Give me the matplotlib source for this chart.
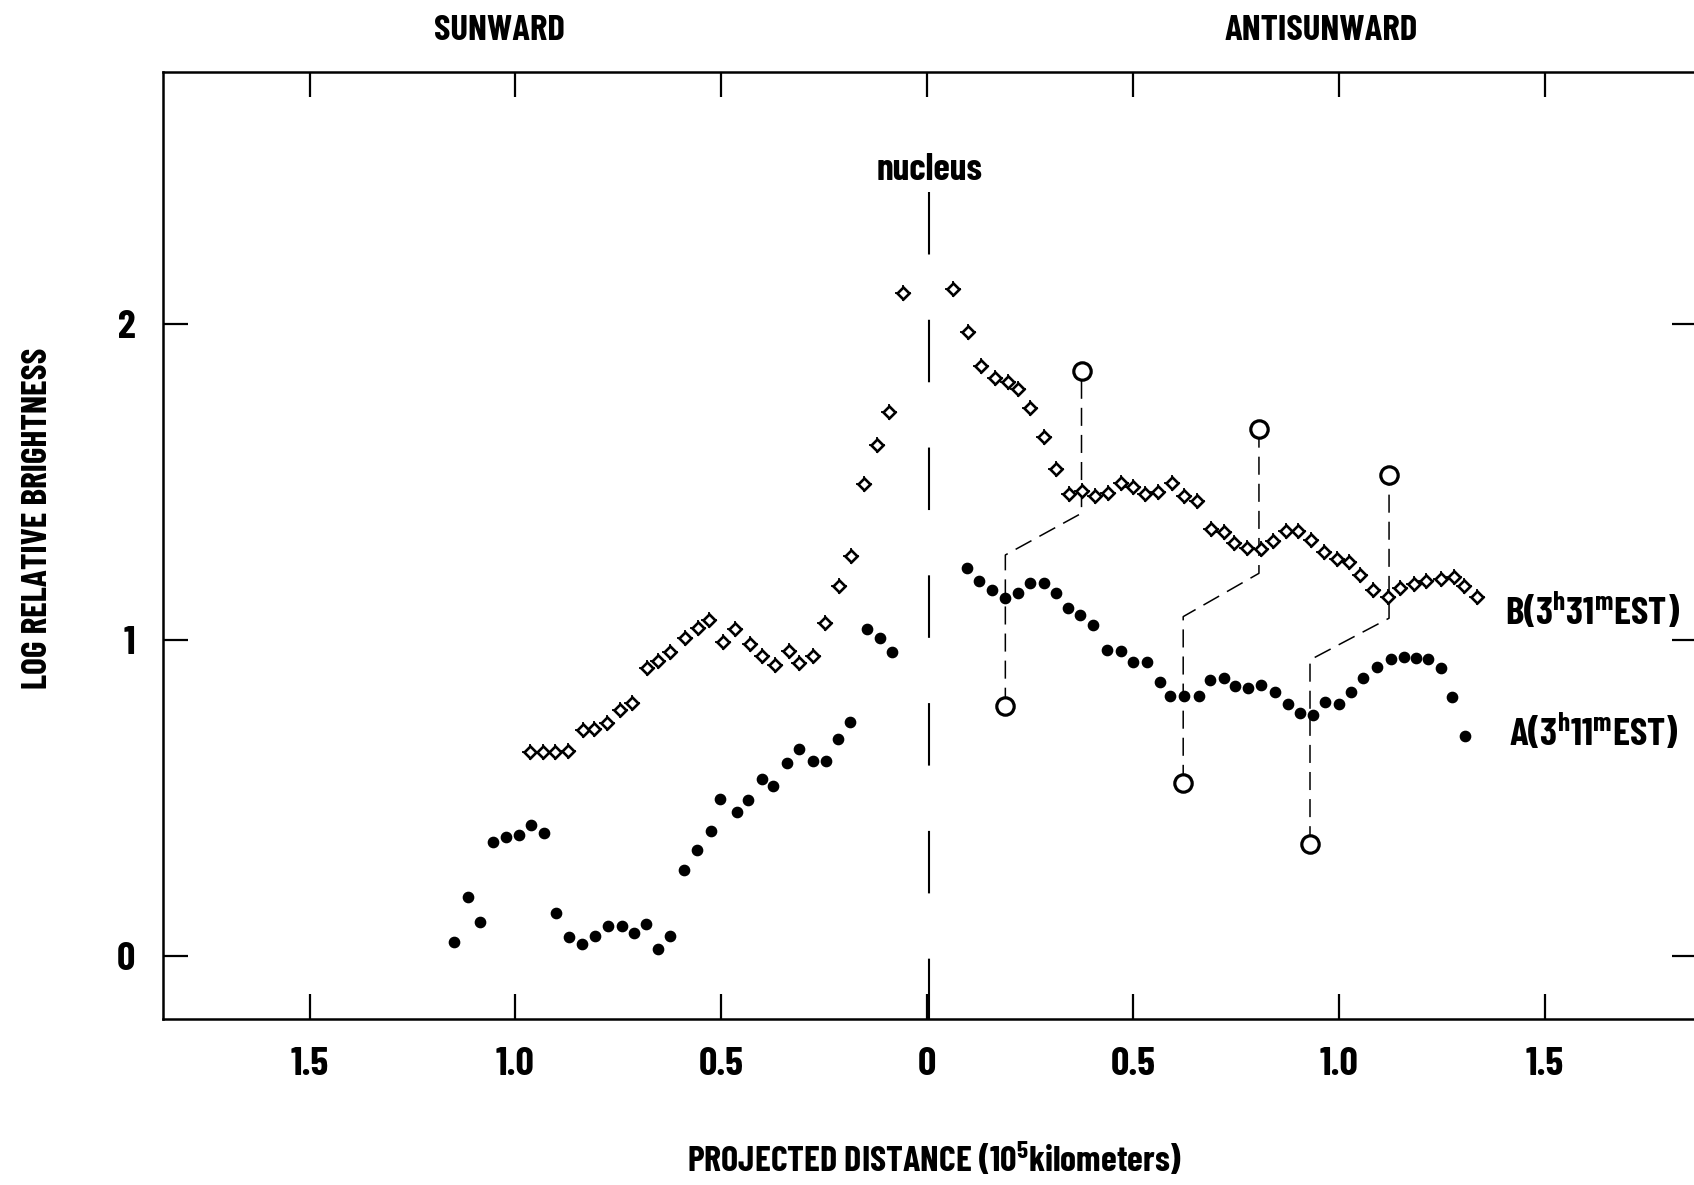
import numpy as np
import matplotlib
matplotlib.use('Agg')
import matplotlib.pyplot as plt
from matplotlib import font_manager

# distances in 1e5 km, sunward side negative
a_x = [-1.148, -1.116, -1.086, -1.055, -1.022, -0.991, -0.961, -0.931, -0.902,
       -0.869, -0.839, -0.807, -0.775, -0.742, -0.712, -0.683, -0.654, -0.624,
       -0.591, -0.560, -0.526, -0.503, -0.462, -0.434, -0.402, -0.374, -0.341,
       -0.310, -0.277, -0.245, -0.217, -0.187, -0.147, -0.115, -0.085,
       0.097, 0.127, 0.157, 0.188, 0.221, 0.251, 0.283, 0.314, 0.343, 0.372,
       0.403, 0.436, 0.470, 0.501, 0.534, 0.565, 0.591, 0.625, 0.660, 0.688,
       0.720, 0.748, 0.780, 0.810, 0.846, 0.876, 0.906, 0.938, 0.966, 1.001,
       1.029, 1.058, 1.092, 1.127, 1.159, 1.187, 1.217, 1.248, 1.275, 1.307]
a_y = [0.045, 0.187, 0.109, 0.362, 0.376, 0.384, 0.415, 0.391, 0.135,
       0.061, 0.038, 0.063, 0.094, 0.096, 0.074, 0.103, 0.021, 0.065,
       0.272, 0.336, 0.396, 0.496, 0.457, 0.494, 0.559, 0.539, 0.610,
       0.654, 0.618, 0.618, 0.687, 0.741, 1.034, 1.007, 0.961,
       1.229, 1.188, 1.158, 1.132, 1.148, 1.181, 1.181, 1.150, 1.101, 1.079,
       1.047, 0.968, 0.965, 0.931, 0.931, 0.866, 0.823, 0.823, 0.823, 0.873,
       0.879, 0.855, 0.847, 0.858, 0.837, 0.797, 0.770, 0.763, 0.803, 0.796,
       0.834, 0.879, 0.914, 0.939, 0.947, 0.942, 0.939, 0.910, 0.819, 0.696]

b_x = [-0.965, -0.933, -0.903, -0.872, -0.837, -0.809, -0.778, -0.747, -0.716,
       -0.681, -0.653, -0.624, -0.589, -0.557, -0.531, -0.496, -0.466, -0.431,
       -0.400, -0.369, -0.335, -0.311, -0.277, -0.248, -0.215, -0.185, -0.153,
       -0.122, -0.093, -0.058,
       0.064, 0.099, 0.130, 0.165, 0.196, 0.221, 0.251, 0.284, 0.314, 0.344,
       0.377, 0.407, 0.440, 0.470, 0.501, 0.529, 0.561, 0.595, 0.623, 0.655,
       0.689, 0.722, 0.745, 0.778, 0.811, 0.841, 0.872, 0.902, 0.933, 0.965,
       0.995, 1.025, 1.052, 1.084, 1.119, 1.149, 1.183, 1.212, 1.249, 1.279,
       1.303, 1.336]
b_y = [0.647, 0.647, 0.647, 0.649, 0.715, 0.720, 0.738, 0.778, 0.800,
       0.910, 0.934, 0.963, 1.007, 1.037, 1.063, 0.995, 1.034, 0.986,
       0.949, 0.921, 0.966, 0.926, 0.949, 1.055, 1.171, 1.266, 1.493,
       1.617, 1.722, 2.097,
       2.111, 1.974, 1.868, 1.828, 1.817, 1.794, 1.733, 1.643, 1.541, 1.462,
       1.472, 1.457, 1.466, 1.496, 1.485, 1.461, 1.469, 1.498, 1.457, 1.441,
       1.351, 1.343, 1.308, 1.290, 1.287, 1.314, 1.345, 1.346, 1.316, 1.279,
       1.255, 1.248, 1.206, 1.158, 1.135, 1.163, 1.176, 1.188, 1.192, 1.200,
       1.172, 1.135]

# paired features (open circles) and the knees of the dashed connectors
lo_x = [0.190, 0.622, 0.930]
lo_y = [0.792, 0.548, 0.354]
lo_knee = [1.269, 1.074, 0.937]
hi_x = [0.375, 0.806, 1.122]
hi_y = [1.852, 1.668, 1.521]
hi_knee = [1.401, 1.211, 1.069]

xticks = [-1.5, -1.0, -0.5, 0, 0.5, 1.0, 1.5]
xticklabels = ['1.5', '1.0', '0.5', '0', '0.5', '1.0', '1.5']
yticks = [0, 1, 2]

names = {f.name for f in font_manager.fontManager.ttflist}
cond = 'DejaVu Sans'
for cand in ['Barlow Condensed', 'Asap Condensed', 'Archivo Narrow']:
    if cand in names:
        cond = cand
        break
plt.rcParams['font.family'] = [cond, 'DejaVu Sans']
plt.rcParams['font.weight'] = 'bold'
plt.rcParams['mathtext.fontset'] = 'custom'
plt.rcParams['mathtext.rm'] = cond + ':bold'
plt.rcParams['mathtext.it'] = cond + ':bold'
plt.rcParams['mathtext.bf'] = cond + ':bold'
plt.rcParams['lines.scale_dashes'] = False

W, H = 1694, 1185
fig = plt.figure(figsize=(W / 100, H / 100), dpi=100)
ax = fig.add_axes([163 / W, 1 - 1019 / H, (1697 - 163) / W, (1019 - 72) / H])
ax.set_xlim(-1.856, 1.87)
ax.set_ylim(-0.199, 2.797)

for s in ax.spines.values():
    s.set_linewidth(1.8)

ax.set_xticks(xticks, xticklabels)
ax.set_yticks(yticks)
ax.tick_params(direction='in', length=18, width=1.6, top=True, right=True,
               labelsize=29, color='black')
ax.tick_params(axis='x', pad=20)
ax.tick_params(axis='y', pad=20)
for lab in ax.get_xticklabels() + ax.get_yticklabels():
    lab.set_fontweight('bold')

# nucleus line
ax.plot([0.004, 0.004], [2.418, -0.2], color='black', lw=1.5,
        dashes=(45, 47), solid_capstyle='butt', dash_capstyle='butt', zorder=2)
ax.text(0.005, 2.487, 'nucleus', ha='center', va='center', fontsize=27,
        fontweight='bold')

# connectors between paired features
for i in range(len(lo_x)):
    cx = [lo_x[i], lo_x[i], hi_x[i], hi_x[i]]
    cy = [lo_y[i], lo_knee[i], hi_knee[i], hi_y[i]]
    ax.plot(cx, cy, color='black', lw=1.1, dashes=(13, 6.5), zorder=2)
ax.plot(lo_x + hi_x, lo_y + hi_y, ls='none', marker='o', ms=12.5, mfc='white',
        mec='black', mew=2.3, zorder=5)

# B: open diamonds with small spikes
ax.plot(b_x, b_y, ls='none', marker='+', ms=11.5, mew=1.3, color='black', zorder=3)
ax.plot(b_x, b_y, ls='none', marker='D', ms=6.6, mfc='white', mec='black',
        mew=1.9, zorder=4)
# A: dots
ax.plot(a_x, a_y, ls='none', marker='o', ms=7.4, color='black', zorder=4)

ax.text(1.403, 1.089, r'B(3$^{\mathrm{h}}$31$^{\mathrm{m}}$EST)', ha='left',
        va='center', fontsize=28, fontweight='bold')
ax.text(1.413, 0.705, r'A(3$^{\mathrm{h}}$11$^{\mathrm{m}}$EST)', ha='left',
        va='center', fontsize=28, fontweight='bold')

fig.text(499 / W, 1 - 31 / H, 'SUNWARD', ha='center', va='center',
         fontsize=26.5, fontweight='bold')
fig.text(1321 / W, 1 - 31 / H, 'ANTISUNWARD', ha='center', va='center',
         fontsize=26.5, fontweight='bold')
fig.text(38 / W, 1 - 518 / H, 'LOG RELATIVE BRIGHTNESS', rotation=90,
         ha='center', va='center', fontsize=25.5, fontweight='bold')
fig.text(935 / W, 1 - 1160 / H, r'PROJECTED DISTANCE (10$^{\mathrm{5}}$kilometers)',
         ha='center', va='center', fontsize=26, fontweight='bold')

fig.savefig('out.png', dpi=100)
